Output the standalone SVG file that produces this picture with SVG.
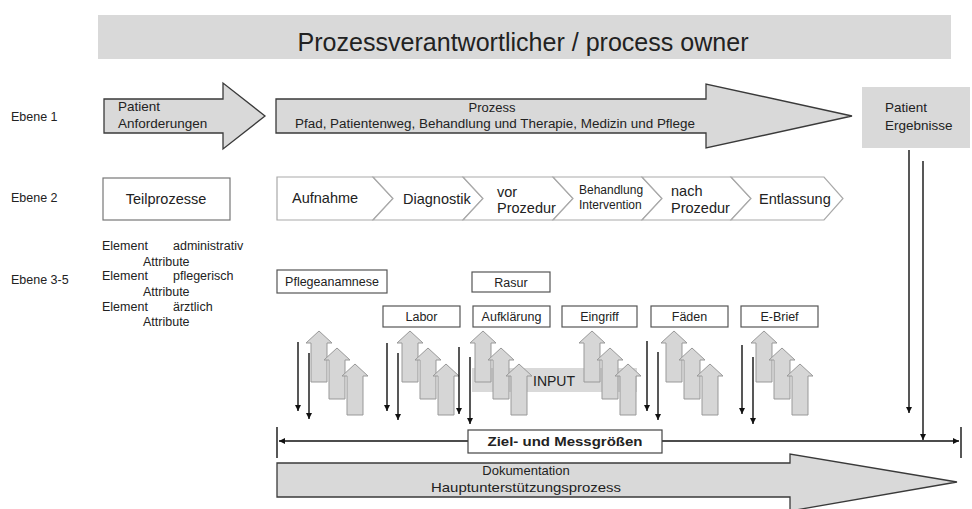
<svg xmlns="http://www.w3.org/2000/svg" xmlns:xlink="http://www.w3.org/1999/xlink" width="972" height="509" viewBox="0 0 972 509">
  <style>
    text { font-family: "Liberation Sans", Arial, sans-serif; fill: #222; }
    .lbl { font-size: 12.5px; }
    .big { font-size: 13.5px; }
    .chev { font-size: 14.5px; }
    .narrow { font-family: "Liberation Sans Narrow", "Liberation Sans", Arial, sans-serif; }
    .block { fill: #d9d9d9; stroke: #3a3a3a; stroke-width: 1.3; }
    .chevron { fill: #ffffff; stroke: #a9a9a9; stroke-width: 1.2; }
    .box { fill: #ffffff; stroke: #555; stroke-width: 1.2; }
    .up { fill: #d6d6d6; stroke: #999; stroke-width: 1; }
    .down { stroke: #111; stroke-width: 1.4; fill: none; marker-end: url(#head); }
    .dim { stroke: #111; stroke-width: 1.4; fill: none; }
  </style>
  <defs>
    <marker id="head" viewBox="0 0 10 10" refX="10" refY="5" markerWidth="6" markerHeight="6" markerUnits="userSpaceOnUse" orient="auto-start-reverse">
      <path d="M0,0 L10,5 L0,10 Z" fill="#111"/>
    </marker>
    <!-- block arrow pointing up, tip at origin -->
    <path id="up" class="up" d="M0,0 L13,12 L8,12 L8,51 L-8,51 L-8,12 L-13,12 Z"/>
    <g id="triple">
      <use xlink:href="#up" x="0" y="0"/>
      <use xlink:href="#up" x="18" y="17"/>
      <use xlink:href="#up" x="36" y="33"/>
    </g>
  </defs>

  <!-- header band -->
  <g id="process-owner">
    <rect x="98" y="15" width="853" height="44" fill="#d9d9d9"/>
    <text x="523" y="51" font-size="25" text-anchor="middle" textLength="451" lengthAdjust="spacingAndGlyphs">Prozessverantwortlicher / process owner</text>
  </g>

  <!-- level labels -->
  <g id="levels" class="lbl">
    <text x="11" y="121">Ebene 1</text>
    <text x="11" y="202">Ebene 2</text>
    <text x="11" y="284">Ebene 3-5</text>
  </g>

  <!-- level 1 -->
  <g id="patient-anforderungen">
    <path class="block" d="M104,99 L223,99 L223,83 L265,116 L223,149 L223,133 L104,133 Z"/>
    <text class="big" x="118" y="111">Patient</text>
    <text class="big" x="118" y="128">Anforderungen</text>
  </g>
  <g id="prozess">
    <path class="block" d="M276,99 L706,99 L706,84 L852,116 L706,148 L706,133 L276,133 Z"/>
    <text x="492" y="112" font-size="13" text-anchor="middle">Prozess</text>
    <text x="495" y="128" font-size="12.5" text-anchor="middle" textLength="400" lengthAdjust="spacingAndGlyphs">Pfad, Patientenweg, Behandlung und Therapie, Medizin und Pflege</text>
  </g>
  <g id="patient-ergebnisse">
    <rect x="862" y="87" width="108" height="61" fill="#d9d9d9"/>
    <text class="big" x="885" y="112">Patient</text>
    <text class="big" x="885" y="130">Ergebnisse</text>
  </g>

  <!-- level 2 -->
  <g id="teilprozesse">
    <rect x="103" y="178" width="127" height="42" fill="#fff" stroke="#777" stroke-width="1.2"/>
    <text class="chev" x="166" y="204" text-anchor="middle">Teilprozesse</text>
  </g>
  <g id="aufnahme">
    <path class="chevron" d="M277,177 L373,177 L393,198.5 L373,220 L277,220 Z"/>
    <text class="chev" x="292" y="203">Aufnahme</text>
  </g>
  <g id="diagnostik">
    <path class="chevron" d="M373,177 L463,177 L483,198.5 L463,220 L373,220 L393,198.5 Z"/>
    <text class="chev" x="403" y="204">Diagnostik</text>
  </g>
  <g id="vor-prozedur">
    <path class="chevron" d="M463,177 L553,177 L573,198.5 L553,220 L463,220 L483,198.5 Z"/>
    <text class="chev" x="497" y="197">vor</text>
    <text class="chev" x="497" y="213">Prozedur</text>
  </g>
  <g id="behandlung">
    <path class="chevron" d="M553,177 L642,177 L662,198.5 L642,220 L553,220 L573,198.5 Z"/>
    <text x="579" y="194" font-size="12">Behandlung</text>
    <text x="579" y="209" font-size="12">Intervention</text>
  </g>
  <g id="nach-prozedur">
    <path class="chevron" d="M642,177 L731,177 L751,198.5 L731,220 L642,220 L662,198.5 Z"/>
    <text class="chev" x="671" y="196">nach</text>
    <text class="chev" x="671" y="213">Prozedur</text>
  </g>
  <g id="entlassung">
    <path class="chevron" d="M731,177 L824,177 L843,198.5 L824,220 L731,220 L751,198.5 Z"/>
    <text class="chev" x="759" y="204">Entlassung</text>
  </g>

  <!-- level 3-5 legend -->
  <g id="elemente" class="lbl">
    <text x="102" y="250">Element</text>
    <text x="173" y="250">administrativ</text>
    <text x="143" y="266">Attribute</text>
    <text x="102" y="280">Element</text>
    <text x="173" y="280">pflegerisch</text>
    <text x="143" y="296">Attribute</text>
    <text x="102" y="311">Element</text>
    <text x="173" y="311">ärztlich</text>
    <text x="143" y="326">Attribute</text>
  </g>

  <!-- input band behind the block arrows -->
  <g id="input">
    <rect x="472" y="368" width="165" height="24" fill="#d9d9d9"/>
    <text x="533" y="386" font-size="14">INPUT</text>
  </g>

  <!-- elements -->
  <g id="pflegeanamnese">
    <rect class="box" x="277" y="270" width="110" height="23"/>
    <text class="lbl" x="332" y="286" text-anchor="middle">Pflegeanamnese</text>
  </g>
  <g id="rasur">
    <rect class="box" x="472" y="272" width="78" height="20"/>
    <text class="lbl" x="511" y="287" text-anchor="middle">Rasur</text>
  </g>
  <g id="labor">
    <rect class="box" x="383" y="306" width="77" height="21"/>
    <text class="lbl" x="421.5" y="321" text-anchor="middle">Labor</text>
  </g>
  <g id="aufklaerung">
    <rect class="box" x="473" y="306" width="77" height="21"/>
    <text class="lbl" x="511.5" y="321" text-anchor="middle">Aufklärung</text>
  </g>
  <g id="eingriff">
    <rect class="box" x="562" y="306" width="75" height="21"/>
    <text class="lbl" x="599.5" y="321" text-anchor="middle">Eingriff</text>
  </g>
  <g id="faeden">
    <rect class="box" x="651" y="306" width="77" height="21"/>
    <text class="lbl" x="689.5" y="321" text-anchor="middle">Fäden</text>
  </g>
  <g id="e-brief">
    <rect class="box" x="741" y="306" width="77" height="21"/>
    <text class="lbl" x="779.5" y="321" text-anchor="middle">E-Brief</text>
  </g>

  <!-- input arrows -->
  <g id="inputs">
    <use xlink:href="#triple" x="319" y="331"/>
    <use xlink:href="#triple" x="410" y="331"/>
    <use xlink:href="#triple" x="483" y="331"/>
    <use xlink:href="#triple" x="592" y="331"/>
    <use xlink:href="#triple" x="674" y="331"/>
    <use xlink:href="#triple" x="764" y="331"/>
  </g>

  <!-- documentation arrow -->
  <g id="dokumentation">
    <path class="block" d="M277,463 L790,463 L790,454 L957,482 L790,511 L790,497 L277,497 Z"/>
    <text x="526" y="475" font-size="13" text-anchor="middle">Dokumentation</text>
    <text x="526" y="492" font-size="13" text-anchor="middle" textLength="190" lengthAdjust="spacingAndGlyphs">Hauptunterstützungsprozess</text>
  </g>

  <!-- connectors -->
  <g id="connectors">
    <line class="down" x1="298" y1="342" x2="298" y2="411"/>
    <line class="down" x1="309" y1="353" x2="309" y2="419"/>
    <line class="down" x1="387" y1="343" x2="387" y2="411"/>
    <line class="down" x1="398" y1="353" x2="398" y2="420"/>
    <line class="down" x1="459" y1="347" x2="459" y2="414"/>
    <line class="down" x1="470" y1="357" x2="470" y2="424"/>
    <line class="down" x1="647" y1="341" x2="647" y2="411"/>
    <line class="down" x1="658" y1="352" x2="658" y2="420"/>
    <line class="down" x1="742" y1="345" x2="742" y2="414"/>
    <line class="down" x1="753" y1="357" x2="753" y2="424"/>
    <line class="down" x1="909" y1="150" x2="909" y2="413"/>
    <line class="down" x1="923" y1="161" x2="923" y2="440"/>
    <!-- target/measure span -->
    <line class="dim" x1="277" y1="427" x2="277" y2="458"/>
    <line class="dim" x1="961" y1="427" x2="961" y2="458"/>
    <line class="dim" x1="279" y1="441" x2="959" y2="441" marker-start="url(#head)" marker-end="url(#head)"/>
  </g>

  <g id="ziel-messgroessen">
    <rect x="468" y="430" width="194" height="23" fill="#fff" stroke="#444" stroke-width="1.2"/>
    <text x="565" y="446" font-size="13" font-weight="bold" text-anchor="middle" textLength="155" lengthAdjust="spacingAndGlyphs">Ziel- und Messgrößen</text>
  </g>
</svg>
